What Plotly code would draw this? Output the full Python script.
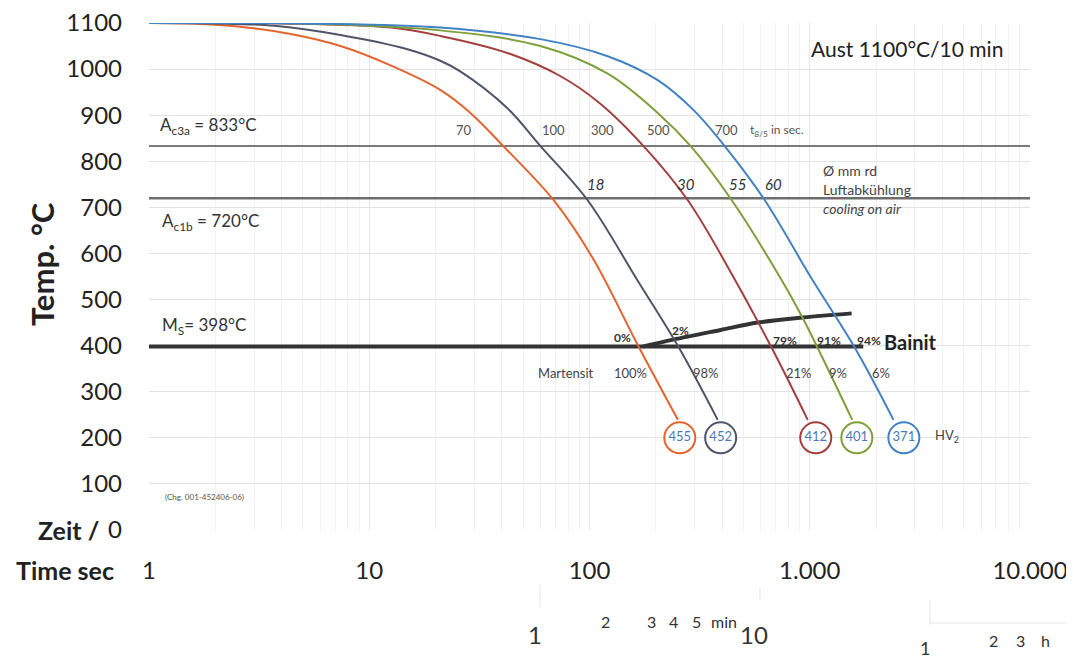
import plotly.graph_objects as go

# ---- data (time in s, temperature in °C) ----
t_orange = [1, 1.7, 2.6, 4.4, 7.4, 12.5, 21, 28.8, 40.6, 68.6, 104, 167, 252]
T_orange = [1100, 1098, 1092, 1076, 1050, 1008, 955, 905, 833, 716, 588, 398, 239]

t_gray = [1, 2, 3.7, 7.4, 14.9, 21, 25.9, 42.4, 59.9, 97.9, 165, 253, 382]
T_gray = [1100, 1099, 1094, 1074, 1043, 1018, 995, 915, 833, 716, 542, 398, 239]

t_red = [1, 4, 12.5, 21, 42.4, 73.6, 112, 176, 279, 437, 679, 979]
T_red = [1100, 1099, 1090, 1072, 1035, 985, 925, 833, 716, 560, 391, 239]

t_green = [1, 5, 21, 59.9, 121, 204, 288, 442, 746, 929, 1087, 1560]
T_green = [1100, 1099, 1084, 1050, 990, 905, 833, 716, 542, 460, 395, 239]

t_blue = [1, 5, 21, 59.9, 121, 204, 297, 411, 624, 1021, 1600, 2400]
T_blue = [1100, 1099, 1090, 1065, 1028, 976, 911, 833, 716, 545, 396, 239]

t85_labels = ["70", "100", "300", "500", "700"]
diam_labels = ["18", "30", "55", "60"]
hardness = ["455", "452", "412", "401", "371"]
hardness_t = [257, 394, 1065, 1636, 2675]
hardness_T = [200, 200, 200, 200, 200]

Ac3 = 833
Ac1 = 720
Ms = 398
t_ms_end = 1750

t_bainit = [175, 240, 394, 580, 930, 1550]
T_bainit = [398, 413, 434, 450, 461, 470]

bainit_pct = ["0%", "2%", "79%", "91%", "94%"]
mart_pct = ["100%", "98%", "21%", "9%", "6%"]

xticks = [1, 10, 100, 1000, 10000]
xticktext = ["1", "10", "100", "1.000", "10.000"]
yticks = list(range(0, 1200, 100))

colors = ["#e2652f", "#4f5568", "#a3403f", "#7f9f3c", "#4282c2"]
curves = [(t_orange, T_orange), (t_gray, T_gray), (t_red, T_red),
          (t_green, T_green), (t_blue, T_blue)]

FONT = "Lato"
fig = go.Figure()

# reference lines
fig.add_trace(go.Scatter(x=[1, 10000], y=[Ac3, Ac3], mode="lines",
                         line=dict(color="#7a7a7a", width=2), hoverinfo="skip"))
fig.add_trace(go.Scatter(x=[1, 10000], y=[Ac1, Ac1], mode="lines",
                         line=dict(color="#6e6e6e", width=2.5), hoverinfo="skip"))
fig.add_trace(go.Scatter(x=[1, t_ms_end], y=[Ms, Ms], mode="lines",
                         line=dict(color="#333333", width=4), hoverinfo="skip"))
fig.add_trace(go.Scatter(x=t_bainit, y=T_bainit, mode="lines", line_shape="spline",
                         line=dict(color="#333333", width=4), hoverinfo="skip"))

for (tx, ty), c in zip(curves, colors):
    fig.add_trace(go.Scatter(x=tx, y=ty, mode="lines", line_shape="spline",
                             line=dict(color=c, width=2, smoothing=1.0), cliponaxis=False))

fig.add_trace(go.Scatter(x=hardness_t, y=hardness_T, mode="markers+text",
                         text=hardness, textposition="middle center",
                         textfont=dict(family=FONT, size=13, color="#4a78b8"),
                         marker=dict(symbol="circle", size=31, color="white",
                                     line=dict(color=colors, width=2)),
                         cliponaxis=False))

# plot area in page pixels (page has an 8px body margin)
L, R, T, B = 149, 1030, 23, 530
OFF = 8
W, H = 1074 - OFF, 669 - 2 * OFF


def ann(px, py, text, size=11, color="#444", xanchor="left", **kw):
    fig.add_annotation(x=(px - L) / (R - L), y=(B - py) / (B - T), xref="paper", yref="paper",
                       text=text, showarrow=False, xanchor=xanchor, yanchor="middle",
                       font=dict(family=FONT, size=size, color=color), **kw)


def pline(x0, y0, x1, y1):
    fig.add_shape(type="line", xref="paper", yref="paper",
                  x0=(x0 - L) / (R - L), x1=(x1 - L) / (R - L),
                  y0=(B - y0) / (B - T), y1=(B - y1) / (B - T),
                  line=dict(color="#e4e4e4", width=1))


ann(158, 126, "A<sub>c3a</sub> = 833°C", size=17, color="#333")
ann(160, 222, "A<sub>c1b</sub> = 720°C", size=17, color="#333")
ann(160, 326, "M<sub>S</sub>= 398°C", size=17, color="#333")
ann(1005, 48, "Aust 1100°C/10 min", size=21, color="#222", xanchor="right")

for px, lab in zip([464, 553, 602, 658, 726], t85_labels):
    ann(px, 130, lab, size=13, color="#555", xanchor="center")
ann(748, 131, "t<sub>8/5</sub> in sec.", size=12, color="#555")

for px, lab in zip([595, 686, 737, 773], diam_labels):
    ann(px, 184, "<i>" + lab + "</i>", size=15, color="#333", xanchor="center")
ann(821, 170, "Ø mm rd", size=14, color="#444")
ann(821, 189, "Luftabkühlung", size=14, color="#444")
ann(821, 208, "<i>cooling on air</i>", size=14, color="#444")

for px, py, lab in zip([622, 680, 785, 829, 869], [337, 330, 340, 340, 340], bainit_pct):
    ann(px, py, "<b>" + lab + "</b>", size=12, color="#333", xanchor="center")
ann(882, 342, "<b>Bainit</b>", size=20, color="#222")
ann(536, 373, "Martensit", size=13, color="#444")
for px, lab in zip([630, 706, 799, 838, 881], mart_pct):
    ann(px, 373, lab, size=13, color="#444", xanchor="center")
ann(933, 436, "HV<sub>2</sub>", size=13, color="#444")
ann(163, 497, "(Chg. 001-452406-06)", size=8, color="#555")

# axis titles
fig.add_annotation(text="<b>Temp. °C</b>", x=(21 - L) / (R - L), y=(B - 264) / (B - T),
                   xref="paper", yref="paper", showarrow=False, textangle=-90,
                   font=dict(family=FONT, size=31, color="#222"))
ann(101, 530, "<b>Zeit /</b>", size=25, color="#222", xanchor="right")
ann(116, 570, "<b>Time sec</b>", size=25, color="#222", xanchor="right")

# secondary time scale (min / h)
pline(540, 585, 540, 607)
pline(760, 588, 760, 600)
pline(930, 600, 930, 625)
pline(930, 623, 1074, 623)
ann(535, 634, "1", size=24, color="#333", xanchor="center")
for px, lab in zip([605, 651, 673, 696], ["2", "3", "4", "5"]):
    ann(px, 621, lab, size=16, color="#333", xanchor="center")
ann(709, 621, "min", size=16, color="#333")
ann(754, 634, "10", size=24, color="#333", xanchor="center")
ann(925, 648, "1", size=18, color="#333", xanchor="center")
for px, lab in zip([993, 1020, 1045], ["2", "3", "h"]):
    ann(px, 640, lab, size=16, color="#333", xanchor="center")

fig.update_layout(
    width=W, height=H,
    margin=dict(l=L - OFF, r=W - (R - OFF), t=T - OFF, b=H - (B - OFF), autoexpand=False),
    paper_bgcolor="white", plot_bgcolor="white", showlegend=False,
    font=dict(family=FONT, color="#222"),
    xaxis=dict(type="log", range=[0, 4], tickvals=xticks, ticktext=xticktext,
               showgrid=True, gridcolor="#e6e6e6", gridwidth=1,
               minor=dict(showgrid=True, gridcolor="#f1f1f1",
                          tickvals=[v * m for v in [1, 10, 100, 1000] for m in range(2, 10)]),
               zeroline=False, showline=False, ticks="", ticklabeloverflow="allow",
               tickfont=dict(family=FONT, size=24, color="#222"), ticklabelstandoff=24),
    yaxis=dict(range=[0, 1100], tickvals=yticks, showgrid=True, gridcolor="#e2e2e2",
               zeroline=False, showline=False, ticks="", ticklabeloverflow="allow",
               tickfont=dict(family=FONT, size=24, color="#222"), ticklabelstandoff=26),
)

fig.write_html("out.html")
